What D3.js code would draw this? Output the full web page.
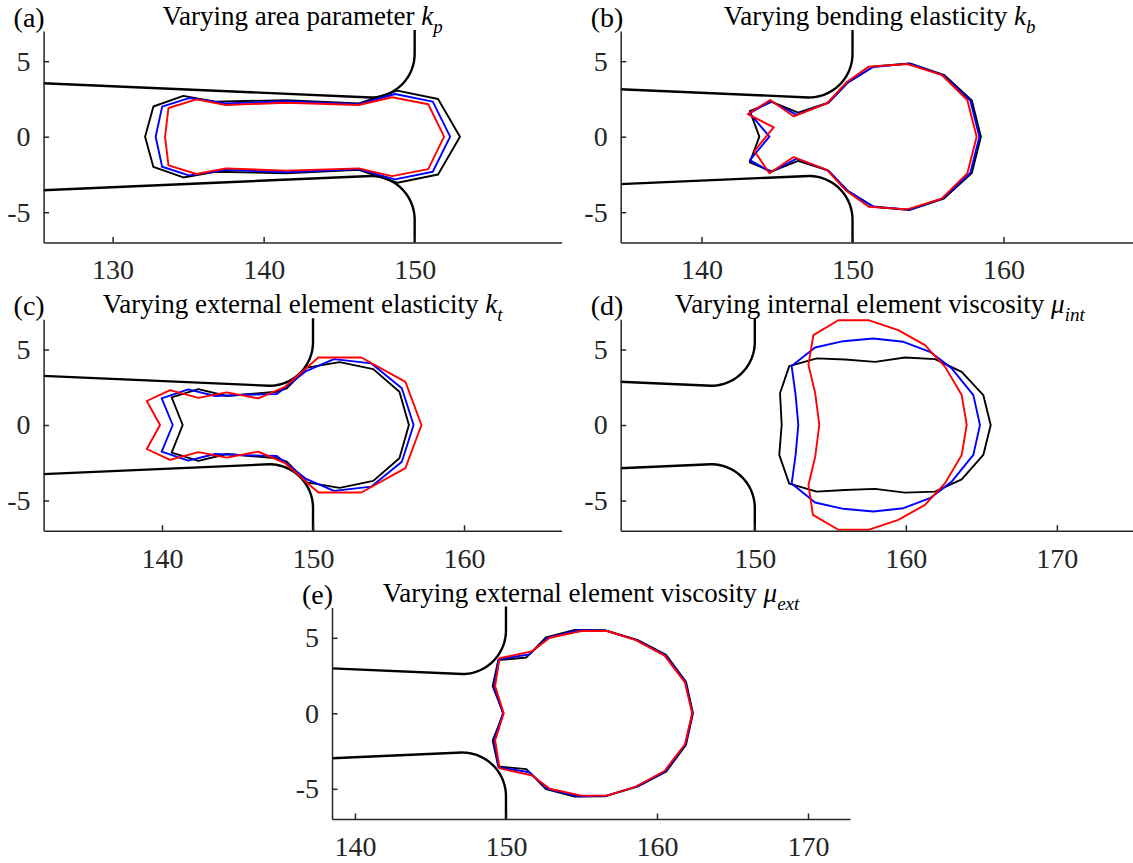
<!DOCTYPE html>
<html>
<head>
<meta charset="utf-8">
<script src="https://cdn.jsdelivr.net/npm/d3@7"></script>
<style>
  body { margin: 0; background: #fff; }
  text { font-family: "Liberation Serif", "Times New Roman", serif; fill: #000; }
</style>
</head>
<body>
<svg id="fig" width="1133" height="863"></svg>
<script>
// channel wall (same in every panel)
var wallNeckX = 147.1, wallNeckHalf = 2.6, wallSlope = 0.0434, wallRadius = 2.9, wallExitX = 150;

var yTicks = [-5, 0, 5];
var yLim = [-7, 7];

// cell outlines, [x, y] vertices
var cellA_black = [[132.15,0],[132.7,2.0],[134.68,2.7],[136.8,2.32],[141.5,2.42],[146.3,2.2],[148.85,3.05],[151.55,2.5],[153.0,0],
  [151.55,-2.5],[148.85,-3.05],[146.3,-2.2],[141.5,-2.42],[136.8,-2.32],[134.68,-2.7],[132.7,-2.0]];
var cellA_blue = [[132.85,0],[133.28,1.99],[135.05,2.56],[137.5,2.2],[141.5,2.35],[146.3,2.15],[148.7,2.83],[151.2,2.32],[152.35,0],
  [151.2,-2.32],[148.7,-2.83],[146.3,-2.15],[141.5,-2.35],[137.5,-2.2],[135.05,-2.56],[133.28,-1.99]];
var cellA_red = [[133.47,0],[133.7,1.9],[135.55,2.47],[137.5,2.1],[141.5,2.25],[146.3,2.1],[148.5,2.61],[150.9,2.15],[151.95,0],
  [150.9,-2.15],[148.5,-2.61],[146.3,-2.1],[141.5,-2.25],[137.5,-2.1],[135.55,-2.47],[133.7,-1.9]];

var cellB_black = [[143.83,0],[143.2,1.7],[144.65,2.3],[146.4,1.6],[148.4,2.25],[149.7,3.6],[151.4,4.65],[153.8,4.85],[156.05,4.1],[157.9,2.4],[158.5,0],
  [157.9,-2.4],[156.05,-4.1],[153.8,-4.85],[151.4,-4.65],[149.7,-3.6],[148.4,-2.25],[146.4,-1.6],[144.65,-2.3],[143.2,-1.7]];
var cellB_blue = [[144.5,0],[143.2,1.55],[144.6,2.35],[146.3,1.45],[148.4,2.25],[149.7,3.6],[151.35,4.62],[153.75,4.84],[156.0,4.07],[157.8,2.4],[158.4,0],
  [157.8,-2.4],[156.0,-4.07],[153.75,-4.84],[151.35,-4.62],[149.7,-3.6],[148.4,-2.25],[146.3,-1.45],[144.6,-2.35],[143.2,-1.55]];
var cellB_red = [[144.78,0.62],[143.07,1.5],[144.55,2.43],[146.1,1.35],[148.3,2.2],[149.6,3.6],[151.08,4.64],[153.62,4.81],[155.9,4.1],[157.6,2.43],[158.22,0],
  [157.6,-2.43],[155.9,-4.1],[153.62,-4.81],[151.08,-4.64],[149.6,-3.6],[148.3,-2.2],[146.1,-1.35],[144.5,-2.42],[143.5,-0.95]];

var cellC_black = [[141.37,0],[140.64,1.83],[142.41,2.38],[144.29,1.92],[147.6,2.2],[148.26,2.42],[149.6,3.8],[151.76,4.16],[153.99,3.7],[155.72,2.2],[156.35,0],
  [155.72,-2.2],[153.99,-3.7],[151.76,-4.16],[149.6,-3.8],[148.26,-2.42],[147.6,-2.2],[144.29,-1.92],[142.41,-2.38],[140.64,-1.83]];
var cellC_blue = [[140.71,0],[139.98,1.76],[141.74,2.36],[143.51,1.92],[145.5,2.0],[147.6,2.05],[148.19,2.5],[149.5,3.55],[151.39,4.36],[153.87,4.08],[155.88,2.43],[156.66,0],
  [155.88,-2.43],[153.87,-4.08],[151.39,-4.36],[149.5,-3.55],[148.19,-2.5],[147.6,-2.05],[145.5,-2.0],[143.51,-1.92],[141.74,-2.36],[139.98,-1.76]];
var cellC_red = [[139.87,0],[138.99,1.59],[140.53,2.31],[142.41,1.8],[144.29,2.16],[146.38,1.76],[148.15,2.53],[150.35,4.47],[153.2,4.47],[156.12,2.86],[157.18,0],
  [156.12,-2.86],[153.2,-4.47],[150.35,-4.47],[148.15,-2.53],[146.38,-1.76],[144.29,-2.16],[142.41,-1.8],[140.53,-2.31],[138.99,-1.59]];

var cellD_black = [[151.78,0],[151.67,2.1],[152.28,3.9],[154.1,4.41],[155.97,4.34],[157.96,4.18],[159.95,4.47],[161.93,4.36],[163.7,3.52],[165.13,1.98],[165.62,0],
  [165.13,-1.98],[163.7,-3.6],[161.93,-4.41],[159.95,-4.48],[157.96,-4.23],[155.97,-4.3],[154.1,-4.41],[152.28,-3.88],[151.62,-1.98]];
var cellD_blue = [[152.88,0],[152.7,2.0],[152.44,3.9],[153.99,5.13],[155.86,5.55],[157.85,5.73],[159.84,5.51],[161.6,4.85],[163.04,3.75],[164.47,1.98],[164.91,0],
  [164.47,-1.98],[163.04,-3.75],[161.6,-4.85],[159.84,-5.51],[157.85,-5.73],[155.86,-5.55],[153.99,-5.13],[152.44,-3.88],[152.7,-2.0]];
var cellD_red = [[154.27,0],[154.0,2.1],[153.55,4.0],[153.88,5.95],[155.53,6.94],[157.52,6.94],[159.5,6.28],[161.27,5.29],[162.6,3.85],[163.7,1.98],[164.03,0],
  [163.7,-1.98],[162.6,-3.85],[161.27,-5.29],[159.5,-6.28],[157.52,-6.94],[155.53,-6.94],[153.85,-5.95],[153.55,-3.97],[154.0,-2.1]];

var cellE_black = [[149.83,0],[149.12,1.8],[149.49,3.52],[151.35,3.7],[152.65,5.02],[154.55,5.52],[156.55,5.5],[158.7,4.86],[160.6,3.87],[161.92,2.09],[162.38,0],
  [161.92,-2.09],[160.6,-3.87],[158.7,-4.86],[156.55,-5.5],[154.55,-5.52],[152.65,-5.02],[151.35,-3.7],[149.49,-3.52],[149.12,-1.8]];
var cellE_blue = [[149.8,0],[149.2,1.8],[149.52,3.58],[151.55,3.9],[152.75,5.0],[154.8,5.5],[156.6,5.47],[158.65,4.85],[160.55,3.85],[161.88,2.08],[162.35,0],
  [161.88,-2.08],[160.55,-3.85],[158.65,-4.85],[156.6,-5.47],[154.8,-5.5],[152.75,-5.0],[151.55,-3.9],[149.52,-3.58],[149.2,-1.8]];
var cellE_red = [[149.85,0],[149.28,1.8],[149.58,3.65],[151.7,4.1],[152.9,5.0],[155.0,5.45],[156.7,5.45],[158.6,4.85],[160.5,3.82],[161.85,2.05],[162.33,0],
  [161.85,-2.05],[160.5,-3.82],[158.6,-4.85],[156.7,-5.45],[155.0,-5.45],[152.9,-5.0],[151.7,-4.1],[149.58,-3.65],[149.28,-1.8]];

var panelLabels = ["(a)", "(b)", "(c)", "(d)", "(e)"];
var titleText = ["Varying area parameter ", "Varying bending elasticity ", "Varying external element elasticity ",
  "Varying internal element viscosity ", "Varying external element viscosity "];
var titleSymbol = ["k", "k", "k", "\u03bc", "\u03bc"];
var titleSub = ["p", "b", "t", "int", "ext"];
var xLims = [[125.43, 159.73], [134.65, 168.95], [132.16, 166.46], [141.12, 175.42], [138.48, 172.78]];
var xTicks = [[130, 140, 150], [140, 150, 160], [140, 150, 160], [150, 160, 170], [140, 150, 160, 170]];
var cells = [
  [cellA_black, cellA_blue, cellA_red],
  [cellB_black, cellB_blue, cellB_red],
  [cellC_black, cellC_blue, cellC_red],
  [cellD_black, cellD_blue, cellD_red],
  [cellE_black, cellE_blue, cellE_red]
];
var cellColors = ["#000000", "#0000ff", "#ff0000"];

// layout
var W = 518, H = 211.4;
var origins = [[43.6, 31], [620.7, 31], [43.6, 319.3], [620.7, 319.3], [332, 607.6]];
var fontPx = 28, titlePx = 27;

var svg = d3.select("#fig");
svg.append("rect").attr("width", 1133).attr("height", 863).attr("fill", "#fff");

function wallPoints(x0) {
  var pts = [[x0, wallNeckHalf + wallSlope * (wallNeckX - x0)], [wallNeckX, wallNeckHalf]];
  var cy = wallNeckHalf + wallRadius;
  for (var i = 1; i <= 30; i++) {
    var t = -Math.PI / 2 + (Math.PI / 2) * i / 30;
    pts.push([wallNeckX + wallRadius * Math.cos(t), cy + wallRadius * Math.sin(t)]);
  }
  pts.push([wallExitX, yLim[1] + 0.5]);
  return pts;
}

origins.forEach(function(o, i) {
  var g = svg.append("g").attr("transform", "translate(" + o[0] + "," + o[1] + ")");
  var x = d3.scaleLinear().domain(xLims[i]).range([0, W]);
  var y = d3.scaleLinear().domain(yLim).range([H, 0]);

  g.append("clipPath").attr("id", "clip" + i)
    .append("rect").attr("x", 0).attr("y", -1).attr("width", W).attr("height", H + 1);

  var plot = g.append("g").attr("clip-path", "url(#clip" + i + ")");
  var line = d3.line().x(function(d) { return x(d[0]); }).y(function(d) { return y(d[1]); });
  var closed = d3.line().curve(d3.curveLinearClosed).x(function(d) { return x(d[0]); }).y(function(d) { return y(d[1]); });

  var upper = wallPoints(xLims[i][0] - 2);
  var lower = upper.map(function(d) { return [d[0], -d[1]]; });
  [upper, lower].forEach(function(w) {
    plot.append("path").attr("d", line(w))
      .attr("fill", "none").attr("stroke", "#000").attr("stroke-width", 2.4);
  });

  cells[i].forEach(function(c, j) {
    plot.append("path").attr("d", closed(c))
      .attr("fill", "none").attr("stroke", cellColors[j])
      .attr("stroke-width", 1.9).attr("stroke-linejoin", "round");
  });

  var gx = g.append("g").attr("transform", "translate(0," + H + ")")
    .call(d3.axisBottom(x).tickValues(xTicks[i]).tickSizeInner(-5.5).tickSizeOuter(0).tickPadding(17)
      .tickFormat(function(d) { return String(d); }));
  var gy = g.append("g")
    .call(d3.axisLeft(y).tickValues(yTicks).tickSizeInner(-5.5).tickSizeOuter(0).tickPadding(13)
      .tickFormat(function(d) { return String(d); }));
  [gx, gy].forEach(function(a) {
    a.attr("font-family", null).attr("font-size", null);
    a.selectAll("path, line").attr("stroke", "#262626").attr("stroke-width", 1.5);
    a.selectAll("text").style("font-size", fontPx + "px").style("fill", "#262626");
  });

  var t = g.append("text").attr("x", W / 2).attr("y", -6).attr("text-anchor", "middle").style("font-size", titlePx + "px");
  t.append("tspan").text(titleText[i]);
  t.append("tspan").attr("font-style", "italic").text(titleSymbol[i]);
  t.append("tspan").attr("font-style", "italic").attr("dy", 8).style("font-size", "19px").text(titleSub[i]);

  g.append("text").attr("x", -30).attr("y", -4).style("font-size", fontPx + "px").text(panelLabels[i]);
});
</script>
</body>
</html>
